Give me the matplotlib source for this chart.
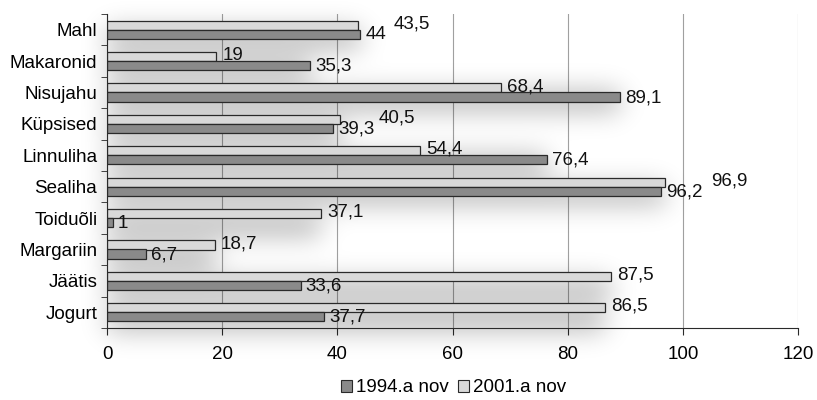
import matplotlib
matplotlib.use("Agg")
import matplotlib.pyplot as plt
import numpy as np
from matplotlib.patches import Rectangle

categories = ["Mahl", "Makaronid", "Nisujahu", "Küpsised", "Linnuliha",
              "Sealiha", "Toiduõli", "Margariin", "Jäätis", "Jogurt"]
v1994 = [44, 35.3, 89.1, 39.3, 76.4, 96.2, 1, 6.7, 33.6, 37.7]
v2001 = [43.5, 19, 68.4, 40.5, 54.4, 96.9, 37.1, 18.7, 87.5, 86.5]
series_names = ["1994.a nov", "2001.a nov"]
xticks = [0, 20, 40, 60, 80, 100, 120]

plt.rcParams['font.family'] = ['Liberation Sans', 'DejaVu Sans']
FS = 13.5

fig = plt.figure(figsize=(8.17, 4.0), dpi=100)
ax = fig.add_axes([0.131, 0.18, 0.846, 0.785])

n = len(categories)
y = np.arange(n)
h = 0.29
dark = "#8a8a8a"
light = "#d9d9d9"
edge = "#2a2a2a"

# soft blurred drop shadow behind bars
x0, x1 = -20.0, 140.0
y0, y1 = -1.5, 10.5
W, H = 920, 380
xs = np.linspace(x0, x1, W)
ys = np.linspace(y0, y1, H)
XX, YY = np.meshgrid(xs, ys)
mask = np.zeros((H, W))
sh_dy = 0.3
for i in range(n):
    vmax = max(v1994[i], v2001[i])
    inside = (XX >= 0) & (XX <= vmax) & (YY >= y[i] - h + sh_dy) & (YY <= y[i] + h + sh_dy)
    mask[inside] = 1.0
sig = 13.0
k = np.arange(-int(3 * sig), int(3 * sig) + 1)
g = np.exp(-k**2 / (2 * sig**2)); g /= g.sum()
blur = np.apply_along_axis(lambda r: np.convolve(r, g, mode="same"), 1, mask)
blur = np.apply_along_axis(lambda c: np.convolve(c, g, mode="same"), 0, blur)
rgba = np.zeros((H, W, 4))
rgba[..., 3] = 0.32 * blur
ax.imshow(rgba, extent=(x0, x1, y1, y0), aspect="auto", zorder=1,
          interpolation="bilinear", clip_on=False)

ax.barh(y - h/2, v2001, height=h, color=light, edgecolor=edge, linewidth=0.9, zorder=3)
ax.barh(y + h/2, v1994, height=h, color=dark, edgecolor=edge, linewidth=0.9, zorder=3)

# data labels
off2001 = {0: 6.2, 3: 6.7, 5: 8.0}
for i in range(n):
    dx = off2001.get(i, 1.1)
    ax.text(v2001[i] + dx, y[i] - h/2 - 0.04, f"{v2001[i]:g}".replace(".", ","),
            va="center", ha="left", fontsize=FS, color="#111111", zorder=5)
    ax.text(v1994[i] + 0.9, y[i] + h/2 + 0.02, f"{v1994[i]:g}".replace(".", ","),
            va="center", ha="left", fontsize=FS, color="#111111", zorder=5)

ax.set_xlim(0, 120)
ax.set_ylim(n - 0.5, -0.5)
ax.set_xticks(xticks)
ax.set_xticklabels([str(t) for t in xticks], fontsize=FS)
ax.set_yticks(y)
ax.set_yticklabels(categories, fontsize=FS)
ax.tick_params(axis='y', length=0, pad=7)
ax.set_yticks(np.arange(-0.5, n, 1), minor=True)
ax.tick_params(axis='y', which='minor', length=4, direction='out', color=edge)
ax.tick_params(axis='x', length=5, direction='out', color=edge, pad=8)

ax.grid(axis='x', color="#a0a0a0", linewidth=0.8, zorder=0)
ax.set_axisbelow(True)
for s in ["top", "right"]:
    ax.spines[s].set_visible(False)
ax.spines["left"].set_color(edge)
ax.spines["bottom"].set_color(edge)
ax.spines["left"].set_zorder(4)
ax.spines["bottom"].set_zorder(4)

handles = [Rectangle((0, 0), 1, 1, facecolor=dark, edgecolor=edge, linewidth=0.8),
           Rectangle((0, 0), 1, 1, facecolor=light, edgecolor=edge, linewidth=0.8)]
fig.legend(handles, series_names, loc="center", bbox_to_anchor=(0.555, 0.03), ncol=2,
           frameon=False, fontsize=FS, handlelength=0.6, handleheight=0.6,
           handletextpad=0.2, columnspacing=0.5, borderpad=0)

fig.savefig("out.png", dpi=100)
